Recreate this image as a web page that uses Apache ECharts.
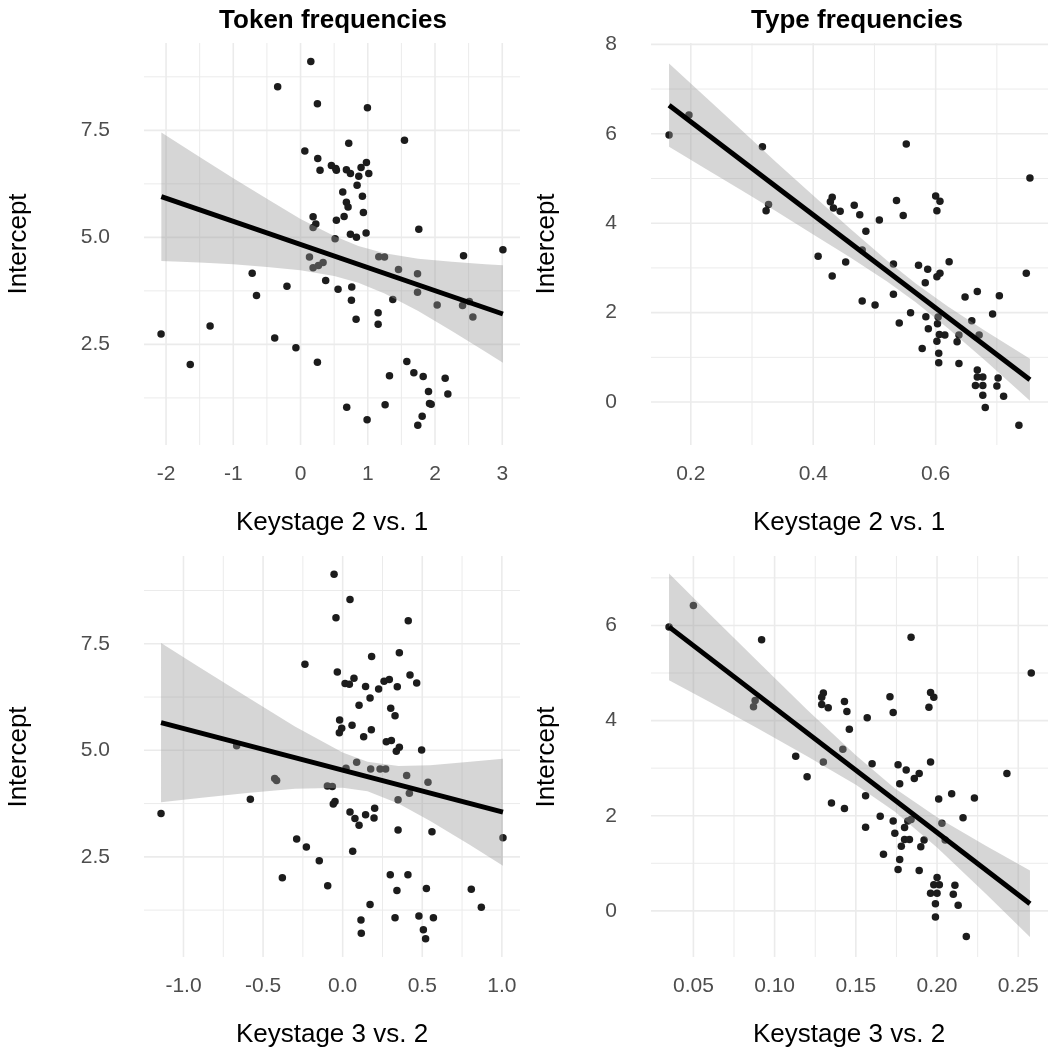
<!DOCTYPE html>
<html>
<head>
<meta charset="utf-8">
<script src="https://cdn.jsdelivr.net/npm/echarts@6/dist/echarts.min.js"></script>
<style>
  html, body { margin: 0; padding: 0; background: #fff; }
  #chart { width: 1050px; height: 1053px; }
</style>
</head>
<body>
<div id="chart"></div>
<script>
// Token frequencies, Keystage 2 vs. 1
const tokK21X = [0.153, -0.34, 0.251, 0.064, 0.256, 0.29, 0.187, 0.227, 0.187, 0.133, 0.187, 0.266, 0.335, 0.374, -0.719, -0.202, -0.655, -1.345, -2.074, -0.384, -0.069, -1.64, 0.251,
  0.995, 1.546, 0.717, 0.459, 0.524, 0.533, 0.682, 0.742, 0.866, 0.9, 0.98, 1.015, 0.841, 0.628, 0.92, 0.682, 0.707, 0.935, 0.648, 0.533, 1.759, 0.975, 0.742, 0.831, 0.514, 1.164, 1.249, 2.424, 3.01, 1.457, 1.74, 0.558, 0.762, 0.757, 1.372, 1.74, 2.032, 2.41, 2.51, 2.563, 0.826, 1.154, 1.154, 1.581, 1.323, 1.685, 1.824, 2.151, 1.903, 2.191, 1.918, 1.943, 0.687, 1.258, 0.99, 1.809, 1.744];
const tokK21Y = [9.11, 8.52, 8.12, 7.02, 6.84, 6.57, 5.48, 5.31, 5.23, 4.54, 4.29, 4.34, 4.41, 3.99, 4.16, 3.86, 3.64, 2.93, 2.74, 2.65, 2.42, 2.03, 2.08,
  8.03, 7.27, 7.2, 6.68, 6.61, 6.57, 6.58, 6.49, 6.43, 6.63, 6.75, 6.49, 6.22, 6.06, 5.96, 5.82, 5.71, 5.58, 5.49, 5.4, 5.19, 5.10, 5.07, 5.0, 4.97, 4.55, 4.54, 4.57, 4.71, 4.25, 4.15, 3.79, 3.84, 3.53, 3.55, 3.72, 3.42, 3.41, 3.50, 3.14, 3.09, 3.24, 2.97, 2.10, 1.77, 1.84, 1.75, 1.71, 1.40, 1.34, 1.12, 1.10, 1.03, 1.09, 0.74, 0.82, 0.61];
const tokK21Fit = [[-2.07, 5.95], [3.01, 3.21]];
const tokK21BandX = [-2.07, -1.5, -1.0, -0.5, 0, 0.5, 0.86, 1.25, 1.75, 2.25, 2.75, 3.01];
const tokK21BandLo = [4.45, 4.41, 4.37, 4.31, 4.23, 4.10, 3.94, 3.69, 3.28, 2.81, 2.33, 2.07];
const tokK21BandHi = [7.45, 6.88, 6.38, 5.90, 5.43, 5.03, 4.80, 4.63, 4.50, 4.43, 4.37, 4.35];

// Type frequencies, Keystage 2 vs. 1
const typK21X = [0.1645, 0.197, 0.317, 0.323, 0.327, 0.431, 0.428, 0.433, 0.444, 0.408, 0.453, 0.431,
  0.552, 0.754, 0.600, 0.607, 0.602, 0.536, 0.467, 0.476, 0.547, 0.508, 0.486, 0.480, 0.531, 0.572, 0.587, 0.622, 0.607, 0.602, 0.583, 0.748, 0.531, 0.480, 0.501, 0.648, 0.668, 0.704, 0.559, 0.5405, 0.584, 0.604, 0.603, 0.588, 0.659, 0.693, 0.606, 0.615, 0.638, 0.671, 0.602, 0.635, 0.578, 0.605, 0.605, 0.638, 0.668, 0.668, 0.677, 0.665, 0.677, 0.702, 0.700, 0.677, 0.711, 0.681, 0.736];
const typK21Y = [5.97, 6.42, 5.71, 4.28, 4.42, 4.58, 4.48, 4.34, 4.27, 3.26, 3.13, 2.82,
  5.77, 5.01, 4.61, 4.49, 4.28, 4.51, 4.40, 4.19, 4.17, 4.07, 3.82, 3.40, 3.09, 3.06, 2.97, 3.14, 2.88, 2.80, 2.67, 2.88, 2.41, 2.26, 2.17, 2.35, 2.47, 2.38, 2.0, 1.77, 1.91, 1.90, 1.75, 1.64, 1.82, 1.97, 1.51, 1.50, 1.50, 1.50, 1.36, 1.35, 1.20, 1.09, 0.88, 0.86, 0.72, 0.56, 0.56, 0.37, 0.37, 0.54, 0.36, 0.15, 0.13, -0.12, -0.52];
const typK21Fit = [[0.1645, 6.64], [0.754, 0.50]];
const typK21BandX = [0.1645, 0.22, 0.28, 0.34, 0.40, 0.46, 0.52, 0.5674, 0.62, 0.68, 0.754];
const typK21BandLo = [5.71, 5.25, 4.76, 4.26, 3.75, 3.24, 2.70, 2.23, 1.65, 0.94, 0.03];
const typK21BandHi = [7.57, 6.87, 6.12, 5.36, 4.62, 3.88, 3.17, 2.65, 2.14, 1.60, 0.97];

// Token frequencies, Keystage 3 vs. 2
const tokK32X = [-0.237, -0.666, -0.427, -0.415, -0.58, -1.141, -0.289, -0.228, -0.147, -0.379, -0.094,
  -0.054, 0.046, -0.042, 0.412, 0.356, 0.182, -0.0335, 0.423, 0.465, 0.015, 0.042, 0.071, 0.144, 0.226, 0.26, 0.293, 0.343, 0.172, 0.103, 0.302, 0.329, -0.019, 0.059, -0.006, -0.021, 0.18, 0.132, 0.306, 0.274, 0.356, 0.337, 0.496, 0.088, 0.021, 0.176, 0.235, 0.27, 0.402, 0.536, -0.096, -0.065, 0.419, 0.348, -0.059, -0.048, 0.046, 0.077, 0.103, 0.144, 0.197, 0.201, 0.348, 0.561, 1.007, 0.063, 0.299, 0.41, 0.341, 0.526, 0.808, 0.172, 0.871, 0.115, 0.329, 0.479, 0.57, 0.117, 0.507, 0.521];
const tokK32Y = [7.02, 5.11, 4.34, 4.29, 3.85, 3.52, 2.92, 2.73, 2.41, 2.01, 1.82,
  9.13, 8.54, 8.11, 8.04, 7.29, 7.20, 6.84, 6.77, 6.58, 6.57, 6.55, 6.69, 6.50, 6.44, 6.62, 6.66, 6.49, 6.23, 6.06, 5.99, 5.81, 5.71, 5.59, 5.52, 5.41, 5.48, 5.32, 5.23, 5.20, 5.07, 4.98, 5.01, 4.72, 4.58, 4.56, 4.56, 4.56, 4.41, 4.25, 4.16, 4.15, 3.99, 3.84, 3.74, 3.80, 3.55, 3.40, 3.24, 3.49, 3.41, 3.64, 3.13, 3.09, 2.95, 2.63, 2.08, 2.08, 1.71, 1.76, 1.74, 1.38, 1.32, 1.02, 1.07, 1.11, 1.07, 0.71, 0.79, 0.58];
const tokK32Fit = [[-1.141, 5.65], [1.007, 3.55]];
const tokK32BandX = [-1.141, -0.9, -0.6, -0.3, 0, 0.156, 0.35, 0.55, 0.8, 1.007];
const tokK32BandLo = [3.78, 3.88, 4.00, 4.10, 4.12, 4.04, 3.75, 3.34, 2.78, 2.29];
const tokK32BandHi = [7.52, 6.95, 6.25, 5.56, 4.95, 4.73, 4.63, 4.65, 4.73, 4.80];

// Type frequencies, Keystage 3 vs. 2
const typK32X = [0.05, 0.035, 0.092, 0.088, 0.087, 0.130, 0.129, 0.129, 0.133, 0.143, 0.1445, 0.146, 0.142, 0.113, 0.130, 0.120, 0.135, 0.143,
  0.184, 0.258, 0.196, 0.198, 0.195, 0.171, 0.173, 0.157, 0.160, 0.176, 0.181, 0.189, 0.186, 0.196, 0.243, 0.177, 0.156, 0.201, 0.209, 0.223, 0.165, 0.216, 0.173, 0.182, 0.184, 0.180, 0.203, 0.156, 0.174, 0.180, 0.183, 0.192, 0.178, 0.190, 0.205, 0.167, 0.177, 0.176, 0.189, 0.200, 0.198, 0.2014, 0.211, 0.196, 0.200, 0.210, 0.199, 0.213, 0.199, 0.218];
const typK32Y = [6.42, 5.97, 5.70, 4.42, 4.29, 4.58, 4.49, 4.34, 4.27, 4.40, 4.19, 3.82, 3.40, 3.25, 3.13, 2.82, 2.27, 2.15,
  5.75, 5.00, 4.59, 4.49, 4.28, 4.50, 4.17, 4.06, 3.09, 3.07, 2.96, 2.89, 2.78, 3.13, 2.89, 2.67, 2.42, 2.35, 2.46, 2.37, 1.99, 1.96, 1.89, 1.89, 1.92, 1.75, 1.84, 1.76, 1.63, 1.50, 1.50, 1.49, 1.36, 1.35, 1.49, 1.19, 1.08, 0.87, 0.85, 0.70, 0.55, 0.55, 0.54, 0.37, 0.37, 0.35, 0.15, 0.12, -0.13, -0.54];
const typK32Fit = [[0.035, 5.97], [0.2572, 0.15]];
const typK32BandX = [0.035, 0.06, 0.09, 0.12, 0.15, 0.1739, 0.20, 0.23, 0.2572];
const typK32BandLo = [4.85, 4.39, 3.83, 3.25, 2.65, 2.09, 1.33, 0.36, -0.55];
const typK32BandHi = [7.09, 6.24, 5.23, 4.23, 3.27, 2.58, 1.97, 1.37, 0.85];

// breaks
const tokK21XMajor = [-2, -1, 0, 1, 2, 3];
const tokK21XMinor = [-1.5, -0.5, 0.5, 1.5, 2.5];
const tokYMajor = [2.5, 5, 7.5];
const tokYMinor = [1.25, 3.75, 6.25, 8.75];
const typK21XMajor = [0.2, 0.4, 0.6];
const typK21XMinor = [0.3, 0.5, 0.7];
const typK21YMajor = [0, 2, 4, 6, 8];
const typK21YMinor = [1, 3, 5, 7];
const tokK32XMajor = [-1, -0.5, 0, 0.5, 1];
const tokK32XMinor = [-0.75, -0.25, 0.25, 0.75];
const typK32XMajor = [0.05, 0.10, 0.15, 0.20, 0.25];
const typK32XMinor = [0.075, 0.125, 0.175, 0.225];
const typK32YMajor = [0, 2, 4, 6];
const typK32YMinor = [1, 3, 5, 7];

const FONT = '"Liberation Sans", Arial, Helvetica, sans-serif';

const panels = [
  { x: tokK21X, y: tokK21Y, fit: tokK21Fit, bx: tokK21BandX, lo: tokK21BandLo, hi: tokK21BandHi,
    xr: [-2.328, 3.264], yr: [0.15, 9.54], xMaj: tokK21XMajor, xMin: tokK21XMinor, yMaj: tokYMajor, yMin: tokYMinor,
    xd: 0, yd: 1, grid: { left: 144, top: 43, width: 376, height: 402 } },
  { x: typK21X, y: typK21Y, fit: typK21Fit, bx: typK21BandX, lo: typK21BandLo, hi: typK21BandHi,
    xr: [0.135, 0.7835], yr: [-0.96, 8.03], xMaj: typK21XMajor, xMin: typK21XMinor, yMaj: typK21YMajor, yMin: typK21YMinor,
    xd: 1, yd: 0, grid: { left: 651, top: 43, width: 397, height: 402 } },
  { x: tokK32X, y: tokK32Y, fit: tokK32Fit, bx: tokK32BandX, lo: tokK32BandLo, hi: tokK32BandHi,
    xr: [-1.248, 1.114], yr: [0.15, 9.56], xMaj: tokK32XMajor, xMin: tokK32XMinor, yMaj: tokYMajor, yMin: tokYMinor,
    xd: 1, yd: 1, grid: { left: 144, top: 556, width: 376, height: 401 } },
  { x: typK32X, y: typK32Y, fit: typK32Fit, bx: typK32BandX, lo: typK32BandLo, hi: typK32BandHi,
    xr: [0.0239, 0.2683], yr: [-0.97, 7.46], xMaj: typK32XMajor, xMin: typK32XMinor, yMaj: typK32YMajor, yMin: typK32YMinor,
    xd: 2, yd: 0, grid: { left: 651, top: 556, width: 397, height: 401 } }
];

function gridLines(i, p, values, dir, width) {
  return {
    type: 'custom', xAxisIndex: i, yAxisIndex: i, silent: true, z: 0,
    data: values,
    renderItem: function (params, api) {
      const v = api.value(0);
      const a = dir === 'x' ? api.coord([v, p.yr[0]]) : api.coord([p.xr[0], v]);
      const b = dir === 'x' ? api.coord([v, p.yr[1]]) : api.coord([p.xr[1], v]);
      return { type: 'line', shape: { x1: a[0], y1: a[1], x2: b[0], y2: b[1] },
        style: { stroke: '#ebebeb', lineWidth: width } };
    }
  };
}

const grids = [], xAxes = [], yAxes = [], series = [];
panels.forEach(function (p, i) {
  grids.push(p.grid);
  xAxes.push({
    gridIndex: i, type: 'value', min: p.xr[0], max: p.xr[1],
    axisLine: { show: false }, axisTick: { show: false }, splitLine: { show: false },
    axisLabel: { customValues: p.xMaj, formatter: v => v.toFixed(p.xd), color: '#4d4d4d',
      fontSize: 21, fontFamily: FONT, margin: 19 }
  });
  yAxes.push({
    gridIndex: i, type: 'value', min: p.yr[0], max: p.yr[1],
    axisLine: { show: false }, axisTick: { show: false }, splitLine: { show: false },
    axisLabel: { customValues: p.yMaj, formatter: v => v.toFixed(p.yd), color: '#4d4d4d',
      fontSize: 21, fontFamily: FONT, margin: 34 }
  });
  series.push(gridLines(i, p, p.xMin, 'x', 1.0));
  series.push(gridLines(i, p, p.yMin, 'y', 1.0));
  series.push(gridLines(i, p, p.xMaj, 'x', 1.6));
  series.push(gridLines(i, p, p.yMaj, 'y', 1.6));
  series.push({
    type: 'scatter', xAxisIndex: i, yAxisIndex: i, z: 2, symbolSize: 7.5,
    itemStyle: { color: '#1c1c1c', opacity: 1 },
    data: p.x.map((v, k) => [v, p.y[k]])
  });
  series.push({
    type: 'custom', xAxisIndex: i, yAxisIndex: i, silent: true, z: 3,
    data: [0],
    renderItem: function (params, api) {
      const pts = [];
      for (let k = 0; k < p.bx.length; k++) pts.push(api.coord([p.bx[k], p.hi[k]]));
      for (let k = p.bx.length - 1; k >= 0; k--) pts.push(api.coord([p.bx[k], p.lo[k]]));
      return { type: 'polygon', shape: { points: pts }, style: { fill: 'rgba(153,153,153,0.4)' } };
    }
  });
  series.push({
    type: 'line', xAxisIndex: i, yAxisIndex: i, z: 4, showSymbol: false, silent: true,
    lineStyle: { color: '#000', width: 5 },
    data: p.fit
  });
});

function label(text, x, y, opts) {
  return Object.assign({
    type: 'text', x: x, y: y,
    style: { text: text, font: '26px ' + FONT, fill: '#000',
      textAlign: 'center', align: 'center', textVerticalAlign: 'middle', verticalAlign: 'middle' }
  }, opts || {});
}

const graphics = [
  label('Token frequencies', 333, 21),
  label('Type frequencies', 857, 21),
  label('Keystage 2 vs. 1', 332, 523),
  label('Keystage 2 vs. 1', 849, 523),
  label('Keystage 3 vs. 2', 332, 1035),
  label('Keystage 3 vs. 2', 849, 1035),
  label('Intercept', 19, 244, { rotation: Math.PI / 2 }),
  label('Intercept', 547, 244, { rotation: Math.PI / 2 }),
  label('Intercept', 19, 757, { rotation: Math.PI / 2 }),
  label('Intercept', 547, 757, { rotation: Math.PI / 2 })
];
graphics[0].style.font = 'bold 26px ' + FONT;
graphics[1].style.font = 'bold 26px ' + FONT;

const chart = echarts.init(document.getElementById('chart'));
chart.setOption({
  backgroundColor: '#fff',
  animation: false,
  grid: grids,
  xAxis: xAxes,
  yAxis: yAxes,
  series: series,
  graphic: graphics
});
</script>
</body>
</html>
